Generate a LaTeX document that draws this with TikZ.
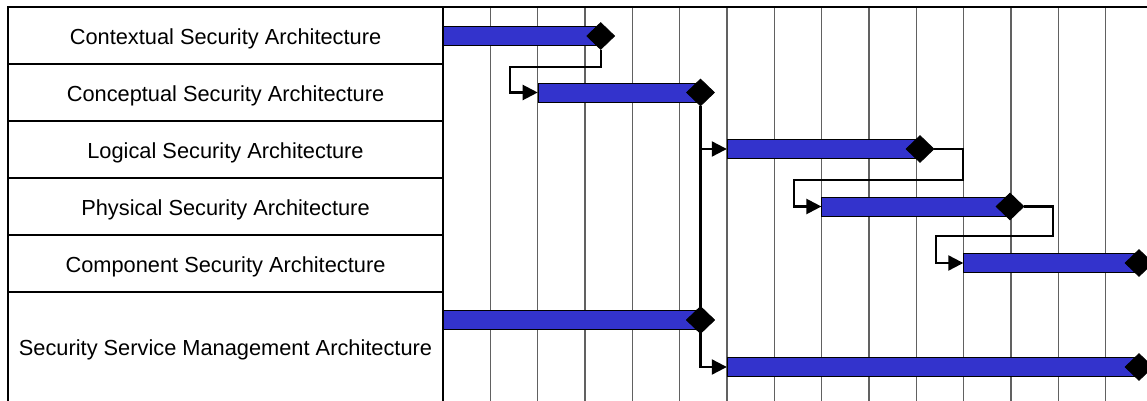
\documentclass[tikz,border=0pt]{standalone}
\usepackage{fontspec}
\setmainfont{Liberation Sans}
\usetikzlibrary{arrows.meta,shapes.geometric}
\definecolor{barblue}{HTML}{3333CC}
\begin{document}
\begin{tikzpicture}[x=0.5pt,y=-0.5pt,
  rowlabel/.style={font=\fontsize{10.9}{13}\selectfont, anchor=center, inner sep=0},
  gridline/.style={draw=black!62, line width=0.65pt},
  tableline/.style={draw=black, line width=0.6pt},
  bar/.style={draw=black, line width=0.4pt, fill=barblue, anchor=west, minimum height=9.5pt, inner sep=0},
  milestone/.style={diamond, fill=black, draw=black, inner sep=0, minimum width=14pt, minimum height=13.5pt},
  conn/.style={draw=black, line width=1.1pt, -{Triangle[length=7.5pt,width=7.5pt]}}]
\useasboundingbox (0,0) rectangle (1147,401);
% grid
\foreach \k in {1,...,14} \draw[gridline] (443+47.33*\k,7) -- (443+47.33*\k,401);
\draw[tableline] (8,401) -- (8,7) -- (1147,7);
\draw[tableline] (443,7) -- (443,401);
\foreach \y in {64,121,178,235,292} \draw[tableline] (8,\y) -- (443,\y);
% labels
\node[rowlabel] (l1) at (225.5,38.5) {Contextual Security Architecture};
\node[rowlabel] (l2) at (225.5,95.5) {Conceptual Security Architecture};
\node[rowlabel] (l3) at (225.5,152.5) {Logical Security Architecture};
\node[rowlabel] (l4) at (225.5,209.5) {Physical Security Architecture};
\node[rowlabel] (l5) at (225.5,266.5) {Component Security Architecture};
\node[rowlabel] (l6) at (225.5,350) {Security Service Management Architecture};
% bars
\node[bar, minimum width=78.85pt] (b1) at (443,36) {};
\node[bar, minimum width=81.25pt] (b2) at (537.7,92.5) {};
\node[bar, minimum width=96.6pt] (b3) at (726.8,149) {};
\node[bar, minimum width=94.3pt] (b4) at (821.4,206.5) {};
\node[bar, minimum width=87.85pt] (b5) at (963.3,263) {};
\node[bar, minimum width=128.75pt] (b6a) at (443,320) {};
\node[bar, minimum width=206.1pt] (b6b) at (726.8,367) {};
% milestones
\node[milestone] (d1) at (600.7,36) {};
\node[milestone] (d2) at (700.5,92.5) {};
\node[milestone] (d3) at (920,149) {};
\node[milestone] (d4) at (1010,206.5) {};
\node[milestone] (d5) at (1139,263) {};
\node[milestone] (d6a) at (700.5,320) {};
\node[milestone] (d6b) at (1139,367) {};
% connectors
\coordinate (c1) at (510,66.7);
\coordinate (c3) at (962.7,180);
\coordinate (c3b) at (794,180);
\coordinate (c4) at (1052.7,236);
\coordinate (c4b) at (935.7,236);
\draw[conn] (d1.south) |- (c1) |- (b2.west);
\draw[conn] (d2.south) |- (b3.west);
\draw[conn] (d2.south) |- (b6b.west);
\draw[conn] (d3.east) -| (c3) -- (c3b) |- (b4.west);
\draw[conn] (d4.east) -| (c4) -- (c4b) |- (b5.west);
\node[milestone] at (d6a) {};
\end{tikzpicture}
\end{document}
